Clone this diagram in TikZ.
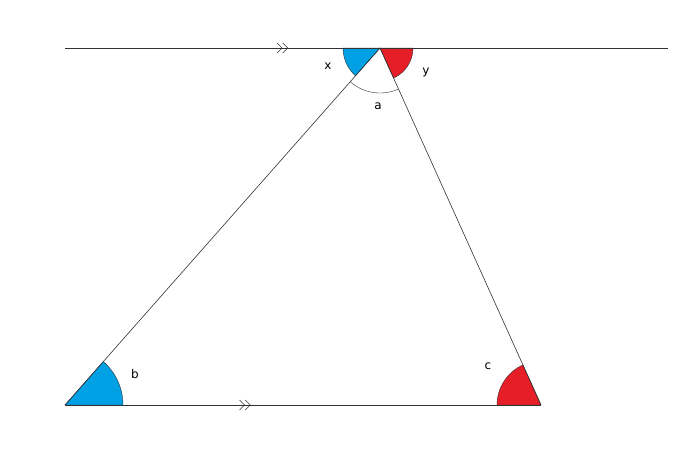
\documentclass[tikz,border=0pt]{standalone}
\usepackage{fontspec}
\setmainfont{DejaVu Sans}
\usetikzlibrary{arrows.meta,decorations.markings,calc}
\definecolor{cblue}{RGB}{0,160,228}
\definecolor{cred}{RGB}{230,30,40}
\tikzset{
  ln/.style={draw=black!80, line width=0.6pt},
  lab/.style={font=\fontsize{12pt}{14pt}\selectfont},
  par/.style={postaction={decorate},decoration={markings,mark=at position #1 with {\arrow[line width=0.6pt]{Straight Barb[length=5pt,width=10pt]Straight Barb[length=5pt,width=10pt]}}}}
}
\begin{document}
\begin{tikzpicture}[x=1pt,y=-1pt]
\useasboundingbox (0,0) rectangle (700,475);
\coordinate (A) at (380,48);
\coordinate (B) at (65,405);
\coordinate (C) at (541,405);
\coordinate (L) at (65,48);
\coordinate (R) at (668,48);
% sectors (y flipped: angles measured with y down, so use negative)
\fill[cblue,draw=black!80,line width=0.4pt] (A) -- ++(-37,0) arc[start angle=180,end angle=131.4,radius=37] -- cycle;
\fill[cred,draw=black!80,line width=0.4pt] (A) -- ++(33,0) arc[start angle=0,end angle=65.7,radius=33] -- cycle;
\draw[black!80,line width=0.4pt] ($(A)+(228.6:-45 and 45)$);
\draw[black!80,line width=0.4pt] ($(A)+({cos(131.4)*45},{sin(131.4)*45})$) arc[start angle=131.4,end angle=65.7,radius=45];
\fill[cblue,draw=black!80,line width=0.4pt] (B) -- ++(58,0) arc[start angle=0,end angle=-48.6,radius=58] -- cycle;
\fill[cred,draw=black!80,line width=0.4pt] (C) -- ++(-44,0) arc[start angle=180,end angle=245.7,radius=44] -- cycle;
\draw[ln,par=0.37] (L) -- (R);
\draw[ln,par=0.39] (B) -- (C);
\draw[ln] (B) -- (A) -- (C);
\node[lab] (x) at (328,66) {x};
\node[lab] (y) at (426,72) {y};
\node[lab] (a) at (378,106) {a};
\node[lab] (b) at (135,374) {b};
\node[lab] (c) at (488,366) {c};
\end{tikzpicture}
\end{document}
